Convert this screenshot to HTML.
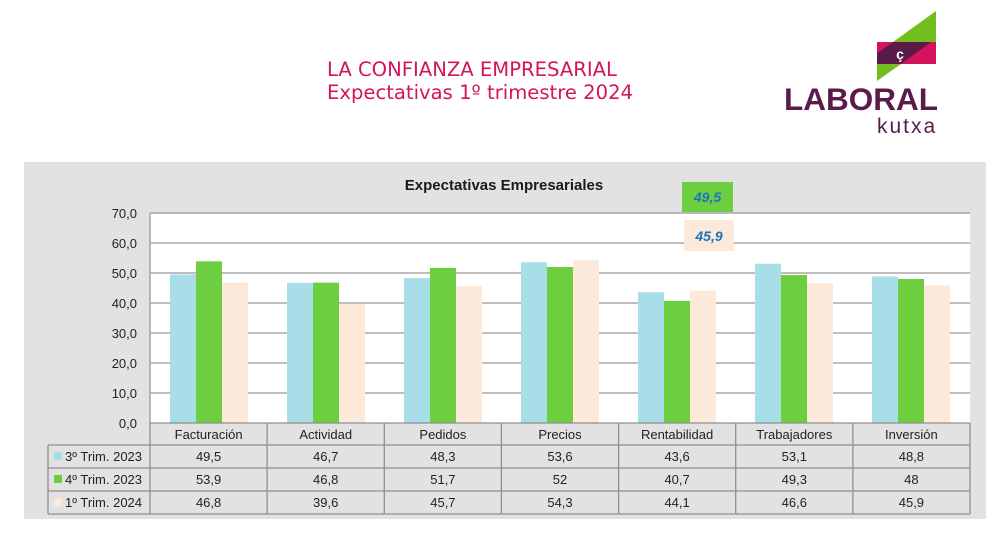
<!DOCTYPE html>
<html><head><meta charset="utf-8"><style>
html,body{margin:0;padding:0;background:#fff;}
svg{display:block;}
</style></head><body>
<svg width="1000" height="537" viewBox="0 0 1000 537" xmlns="http://www.w3.org/2000/svg" font-family="Liberation Sans, sans-serif">
<rect width="1000" height="537" fill="#fff"/>
<!-- Title -->
<text x="327" y="76" font-family="DejaVu Sans, sans-serif" font-size="19.6" fill="#d3145d">LA CONFIANZA EMPRESARIAL</text>
<text x="327" y="99" font-family="DejaVu Sans, sans-serif" font-size="19.6" fill="#d3145d">Expectativas 1º trimestre 2024</text>
<!-- Logo -->
<polygon points="936,11 936,42 893,42" fill="#72be1e"/>
<rect x="877" y="42" width="59" height="22" fill="#d3145d"/>
<polygon points="893,42 931,42 901,64 877,64 877,53.5" fill="#5b1947"/>
<polygon points="877,64 901,64 877,81" fill="#72be1e"/>
<text x="900" y="59" font-size="14" font-weight="bold" fill="#fff" text-anchor="middle">ç</text>
<text x="784" y="110" font-size="31.5" font-weight="bold" fill="#5c1a4a">LABORAL</text>
<text x="877" y="133" font-size="21" fill="#5c1a4a" letter-spacing="2">kutxa</text>
<!-- Panel -->
<rect x="24" y="162" width="962" height="357" fill="#e2e2e2"/>
<text x="504" y="190" font-size="15" font-weight="bold" fill="#1a1a1a" text-anchor="middle">Expectativas Empresariales</text>
<!-- plot area -->
<rect x="150" y="213" width="820" height="210" fill="#fff"/>
<g stroke="#a8a8a8" stroke-width="1.6">
<line x1="150" y1="213" x2="970" y2="213"/>
<line x1="150" y1="243" x2="970" y2="243"/>
<line x1="150" y1="273" x2="970" y2="273"/>
<line x1="150" y1="303" x2="970" y2="303"/>
<line x1="150" y1="333" x2="970" y2="333"/>
<line x1="150" y1="363" x2="970" y2="363"/>
<line x1="150" y1="393" x2="970" y2="393"/>
<line x1="150" y1="213" x2="150" y2="423"/>
</g>
<g font-size="13" fill="#222" text-anchor="end">
<text x="137" y="218">70,0</text>
<text x="137" y="248">60,0</text>
<text x="137" y="278">50,0</text>
<text x="137" y="308">40,0</text>
<text x="137" y="338">30,0</text>
<text x="137" y="368">20,0</text>
<text x="137" y="398">10,0</text>
<text x="137" y="428">0,0</text>
</g>
<g>
<rect x="170" y="274.5" width="26" height="148.5" fill="#a7dee8"/>
<rect x="196" y="261.3" width="26" height="161.7" fill="#6dcf3f"/>
<rect x="222" y="282.6" width="26" height="140.4" fill="#fde9da"/>

<rect x="287" y="282.9" width="26" height="140.1" fill="#a7dee8"/>
<rect x="313" y="282.6" width="26" height="140.4" fill="#6dcf3f"/>
<rect x="339" y="304.2" width="26" height="118.8" fill="#fde9da"/>

<rect x="404" y="278.1" width="26" height="144.9" fill="#a7dee8"/>
<rect x="430" y="267.9" width="26" height="155.1" fill="#6dcf3f"/>
<rect x="456" y="285.9" width="26" height="137.1" fill="#fde9da"/>

<rect x="521" y="262.2" width="26" height="160.8" fill="#a7dee8"/>
<rect x="547" y="267" width="26" height="156" fill="#6dcf3f"/>
<rect x="573" y="260.1" width="26" height="162.9" fill="#fde9da"/>

<rect x="638" y="292.2" width="26" height="130.8" fill="#a7dee8"/>
<rect x="664" y="300.9" width="26" height="122.1" fill="#6dcf3f"/>
<rect x="690" y="290.7" width="26" height="132.3" fill="#fde9da"/>

<rect x="755" y="263.7" width="26" height="159.3" fill="#a7dee8"/>
<rect x="781" y="275.1" width="26" height="147.9" fill="#6dcf3f"/>
<rect x="807" y="283.2" width="26" height="139.8" fill="#fde9da"/>

<rect x="872" y="276.6" width="26" height="146.4" fill="#a7dee8"/>
<rect x="898" y="279" width="26" height="144" fill="#6dcf3f"/>
<rect x="924" y="285.3" width="26" height="137.7" fill="#fde9da"/>
</g>
<!-- label boxes -->
<rect x="682" y="182" width="51" height="30" fill="#6dcf3f"/>
<text x="707.5" y="202" font-size="14" font-weight="bold" font-style="italic" fill="#1a74c0" text-anchor="middle">49,5</text>
<rect x="684" y="220" width="50" height="31" fill="#fde9da"/>
<text x="709" y="241" font-size="14" font-weight="bold" font-style="italic" fill="#1a74c0" text-anchor="middle">45,9</text>
<!-- table -->
<g stroke="#8f8f8f" stroke-width="1.3" fill="none">
<line x1="150" y1="423" x2="970" y2="423"/>
<line x1="48" y1="445" x2="970" y2="445"/>
<line x1="48" y1="468" x2="970" y2="468"/>
<line x1="48" y1="491" x2="970" y2="491"/>
<line x1="48" y1="514" x2="970" y2="514"/>
<line x1="48" y1="445" x2="48" y2="514"/>
<line x1="150" y1="423" x2="150" y2="514"/>
<line x1="267.1" y1="423" x2="267.1" y2="514"/>
<line x1="384.3" y1="423" x2="384.3" y2="514"/>
<line x1="501.4" y1="423" x2="501.4" y2="514"/>
<line x1="618.6" y1="423" x2="618.6" y2="514"/>
<line x1="735.7" y1="423" x2="735.7" y2="514"/>
<line x1="852.9" y1="423" x2="852.9" y2="514"/>
<line x1="970" y1="423" x2="970" y2="514"/>
</g>
<g font-size="13" fill="#222" text-anchor="middle">
<text x="208.6" y="439">Facturación</text>
<text x="325.7" y="439">Actividad</text>
<text x="442.9" y="439">Pedidos</text>
<text x="560" y="439">Precios</text>
<text x="677.1" y="439">Rentabilidad</text>
<text x="794.3" y="439">Trabajadores</text>
<text x="911.4" y="439">Inversión</text>

<text x="208.6" y="461">49,5</text>
<text x="325.7" y="461">46,7</text>
<text x="442.9" y="461">48,3</text>
<text x="560" y="461">53,6</text>
<text x="677.1" y="461">43,6</text>
<text x="794.3" y="461">53,1</text>
<text x="911.4" y="461">48,8</text>

<text x="208.6" y="484">53,9</text>
<text x="325.7" y="484">46,8</text>
<text x="442.9" y="484">51,7</text>
<text x="560" y="484">52</text>
<text x="677.1" y="484">40,7</text>
<text x="794.3" y="484">49,3</text>
<text x="911.4" y="484">48</text>

<text x="208.6" y="507">46,8</text>
<text x="325.7" y="507">39,6</text>
<text x="442.9" y="507">45,7</text>
<text x="560" y="507">54,3</text>
<text x="677.1" y="507">44,1</text>
<text x="794.3" y="507">46,6</text>
<text x="911.4" y="507">45,9</text>
</g>
<rect x="54" y="452" width="8" height="8" fill="#a7dee8"/>
<rect x="54" y="475" width="8" height="8" fill="#6dcf3f"/>
<rect x="54" y="498" width="8" height="8" fill="#fde9da"/>
<g font-size="13" fill="#222">
<text x="65" y="461">3º Trim. 2023</text>
<text x="65" y="484">4º Trim. 2023</text>
<text x="65" y="507">1º Trim. 2024</text>
</g>
</svg>
</body></html>
